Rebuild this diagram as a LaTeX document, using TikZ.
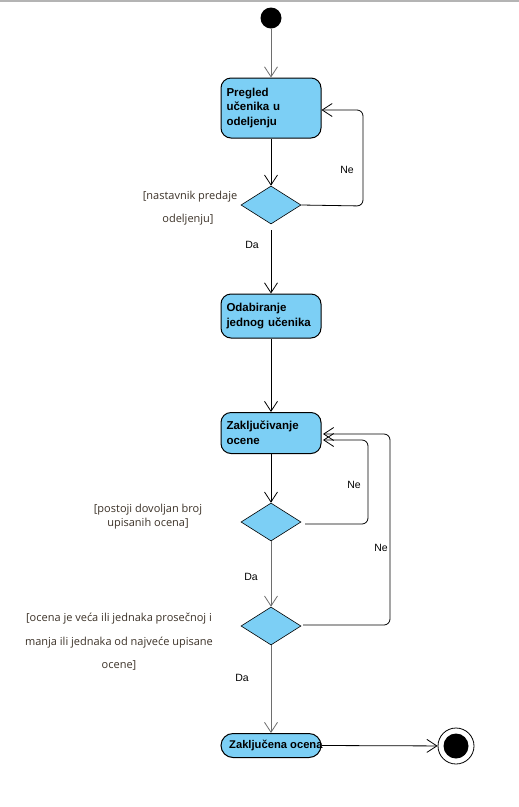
\documentclass[tikz,border=0pt]{standalone}
\usepackage{fontspec}
\setmainfont{Liberation Sans}
\newfontfamily\guardfont{Open Sans}
\usetikzlibrary{arrows.meta,shapes.geometric}
\definecolor{actfill}{RGB}{124,207,245}
\definecolor{guardcol}{RGB}{60,50,40}
\definecolor{edgegray}{RGB}{110,110,110}
\tikzset{
  act/.style={draw=black, line width=1pt, fill=actfill, rounded corners=10pt, minimum width=100pt, inner sep=0pt,
    font=\fontsize{11.5}{14.5}\selectfont\bfseries},
  dec/.style={draw=black, line width=0.6pt, fill=actfill, diamond, minimum width=60pt, minimum height=38pt, inner sep=0pt, aspect=1.6},
  flow/.style={line width=0.8pt, -{Straight Barb[length=10pt,width=13pt,line width=0.8pt]}},
  guard/.style={font=\guardfont\fontsize{11}{12}\selectfont, text=guardcol, align=center},
  lbl/.style={font=\fontsize{10.5}{12}\selectfont}
}
\begin{document}
\begin{tikzpicture}[x=1pt,y=-1pt]
\useasboundingbox (0,0) rectangle (519,807);
\fill[white] (0,0) rectangle (519,807);
\draw[line width=2pt, color={rgb,255:red,180;green,180;blue,180}] (0,1) -- (519,1);

% start
\node[circle, fill=black, minimum size=21pt, inner sep=0pt] (start) at (271,18) {};

% activities
\node[act, minimum height=60pt, text width=89pt, align=left] (n1) at (271,108) {Pregled\\u\v{c}enika u\\odeljenju};
\node[dec] (d1) at (271,205) {};
\node[act, minimum height=44pt, text width=89pt, align=left] (n2) at (271,316) {Odabiranje\\jednog u\v{c}enika};
\node[act, minimum height=41pt, text width=89pt, align=left, anchor=north] (n3) at (271,412) {Zaklju\v{c}ivanje\\ocene};
\node[dec] (d2) at (271,522) {};
\node[dec] (d3) at (271,626) {};
\node[act, minimum height=24pt, rounded corners=12pt, anchor=north] (n4) at (271,733) {};
\node[font=\fontsize{11.2}{13}\selectfont\bfseries, anchor=west, inner sep=0pt] (n4t) at (229,745) {Zaklju\v{c}ena ocena};

% end
\node[circle, draw=black, line width=0.8pt, fill=white, minimum size=36pt, inner sep=0pt] (endo) at (456,746) {};
\node[circle, fill=black, minimum size=25pt, inner sep=0pt] (endi) at (456,746) {};

% coordinates
\coordinate (d1b) at (271,230);
\coordinate (d2r) at (305,524);
\coordinate (d3r) at (303,625);

% flows
\draw[flow, draw=edgegray] (start) -- (n1);
\draw[flow] (n1) -- (d1);
\draw[flow] (d1b) -- (n2);
\draw[flow] (n2) -- (n3.north);
\draw[flow] (n3) -- (d2);
\draw[flow, draw=edgegray] (d2) -- (d3);
\draw[flow, draw=edgegray] (d3) -- (n4);
\draw[flow] (n4.east) -- (endo);

% loops
\draw[flow, rounded corners=6pt] (d1.east) -- (363,206) -- (363,110) -- (n1.east |- 0,110);
\draw[flow, rounded corners=6pt] (d2r) -- (368,524) -- (368,440) -- (323,440);
\draw[flow, rounded corners=6pt] (d3r) -- (390,625) -- (390,434) -- (323,434);

% labels
\node[lbl] (ne1) at (347,170) {Ne};
\node[lbl] (da1) at (252,245) {Da};
\node[lbl] (ne2) at (354,485) {Ne};
\node[lbl] (ne3) at (381,548) {Ne};
\node[lbl] (da2) at (251,577) {Da};
\node[lbl] (da3) at (242,678) {Da};

% guards
\node[guard] (g1a) at (190,197) {[nastavnik predaje};
\node[guard] (g1b) at (188,220) {odeljenju]};
\node[guard, font=\guardfont\fontsize{11}{14}\selectfont] (g2) at (148,517) {[postoji dovoljan broj\\upisanih ocena]};
\node[guard, font=\guardfont\fontsize{11}{23.5}\selectfont] (g3) at (119,642) {[ocena je ve\'ca ili jednaka prose\v{c}noj i\\manja ili jednaka od najve\'ce upisane\\ocene]};
\end{tikzpicture}
\end{document}
